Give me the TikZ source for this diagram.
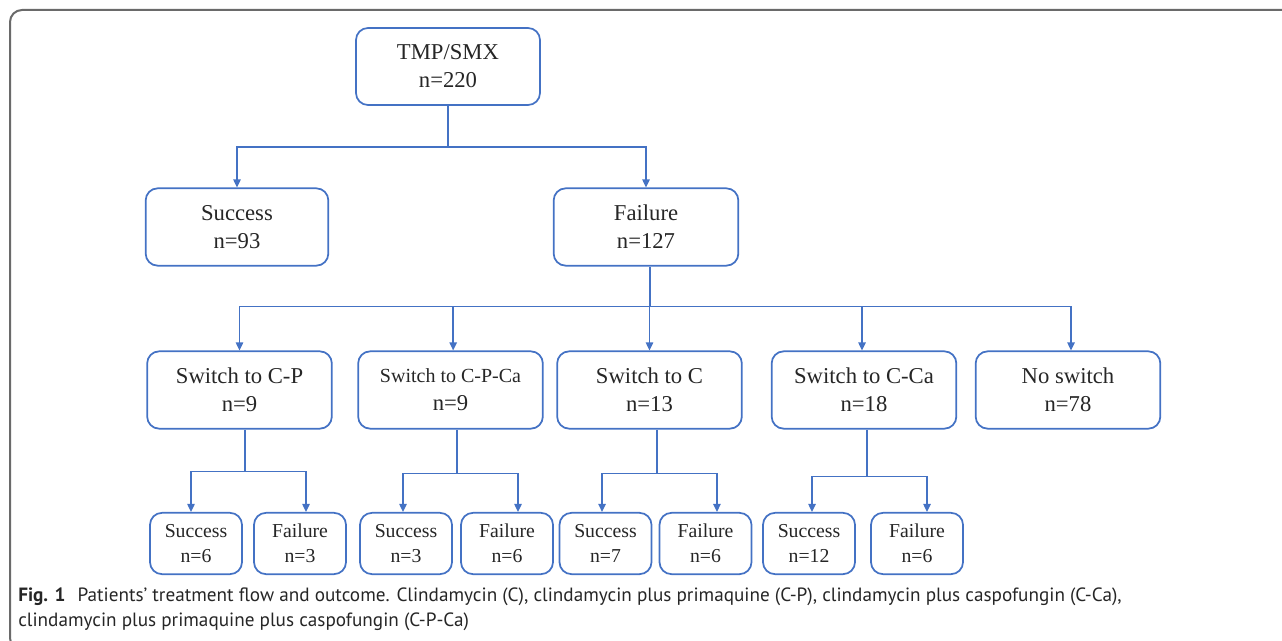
\documentclass[tikz,border=0pt]{standalone}
\usepackage{fontspec}
\setmainfont{Liberation Serif}
\newfontfamily\capfont{PT Sans}
\usetikzlibrary{arrows.meta}
\definecolor{bl}{HTML}{4472C4}
\definecolor{fr}{HTML}{6A6A6A}
\definecolor{tx}{HTML}{262626}
\tikzset{
  box/.style={draw=bl, line width=1.3pt, rounded corners=9pt, align=center,
    inner sep=0pt, text=tx, font=\fontsize{17}{21}\selectfont},
  bigbox/.style={box, minimum width=138.5pt, minimum height=58pt},
  smallbox/.style={box, minimum width=69pt, minimum height=46pt,
    font=\fontsize{14.8}{18.75}\selectfont},
  ln/.style={draw=bl, line width=1.1pt},
  arr/.style={ln, -{Triangle[length=6pt,width=5.5pt]}},
  captext/.style={anchor=base west, inner sep=0pt, text=tx,
    font=\capfont\fontsize{14.4}{19}\selectfont}
}
\begin{document}
\begin{tikzpicture}[x=0.75pt, y=-0.75pt]
\useasboundingbox (0,0) rectangle (1282,641);
% outer frame
\begin{scope}
  \clip (0,0) rectangle (1282,641);
  \draw[fr, line width=1.5pt, rounded corners=9pt] (10,10) rectangle (1300,650);
\end{scope}

% level 1
\node[bigbox, minimum width=138pt, minimum height=57.75pt] (top) at (448,66.5) {TMP/SMX\\n=220};
% level 2
\node[bigbox, minimum width=137pt] (succ) at (237,227) {Success\\n=93};
\node[bigbox] (fail) at (646,227) {Failure\\n=127};
% level 3
\node[bigbox] (cp)   at (239.5,390) {Switch to C-P\\n=9};
\node[bigbox] (cpca) at (450.5,390) {{\fontsize{15}{21}\selectfont Switch to C-P-Ca}\\n=9};
\node[bigbox] (c)    at (649.5,390) {Switch to C\\n=13};
\node[bigbox] (cca)  at (864,390)   {Switch to C-Ca\\n=18};
\node[bigbox] (ns)   at (1068,390)  {No switch\\n=78};
% level 4
\node[smallbox] (s1) at (196,543.5)   {Success\\n=6};
\node[smallbox] (f1) at (300,543.5)   {Failure\\n=3};
\node[smallbox] (s2) at (406,543.5)   {Success\\n=3};
\node[smallbox] (f2) at (507,543.5)   {Failure\\n=6};
\node[smallbox] (s3) at (605.5,543.5) {Success\\n=7};
\node[smallbox] (f3) at (705.5,543.5) {Failure\\n=6};
\node[smallbox] (s4) at (809,543.5)   {Success\\n=12};
\node[smallbox] (f4) at (917,543.5)   {Failure\\n=6};

% connectors level 1 -> 2
\draw[ln] (top.south) -- ++(0,41) coordinate (j1);
\draw[arr] (j1) -| (succ.north);
\draw[arr] (j1) -| (fail.north);
% level 2 -> 3
\draw[ln] ([xshift=3pt]fail.south) -- ++(0,40) coordinate (j2);
\draw[arr] (j2) -| (cp.north);
\draw[arr] (j2) -| ([xshift=2pt]cpca.north);
\draw[arr] (j2) -| (c.north);
\draw[arr] (j2) -| ([xshift=-1.5pt]cca.north);
\draw[arr] (j2) -| ([xshift=2.25pt]ns.north);
% level 3 -> 4
\draw[ln] ([xshift=4.1pt]cp.south) -- ++(0,42) coordinate (j3);
\draw[arr] (j3) -| ([xshift=-3.75pt]s1.north);
\draw[arr] (j3) -| ([xshift=4.5pt]f1.north);
\draw[ln] ([xshift=4.9pt]cpca.south) -- ++(0,44) coordinate (j4);
\draw[arr] (j4) -| ([xshift=-2.25pt]s2.north);
\draw[arr] (j4) -| ([xshift=8.25pt]f2.north);
\draw[ln] ([xshift=5.6pt]c.south) -- ++(0,44) coordinate (j5);
\draw[arr] (j5) -| ([xshift=-2.6pt]s3.north);
\draw[arr] (j5) -| ([xshift=8.6pt]f3.north);
\draw[ln] ([xshift=2.25pt]cca.south) -- ++(0,47) coordinate (j6);
\draw[arr] (j6) -| ([xshift=2.25pt]s4.north);
\draw[arr] (j6) -| ([xshift=7.5pt]f4.north);

% caption
\node[captext] (cap1) at (18,601) {\textbf{Fig. 1}\hspace{9pt}Patients’ treatment flow and outcome. Clindamycin (C), clindamycin plus primaquine (C-P), clindamycin plus caspofungin (C-Ca),};
\node[captext] (cap2) at (18,626) {clindamycin plus primaquine plus caspofungin (C-P-Ca)};
\end{tikzpicture}
\end{document}
